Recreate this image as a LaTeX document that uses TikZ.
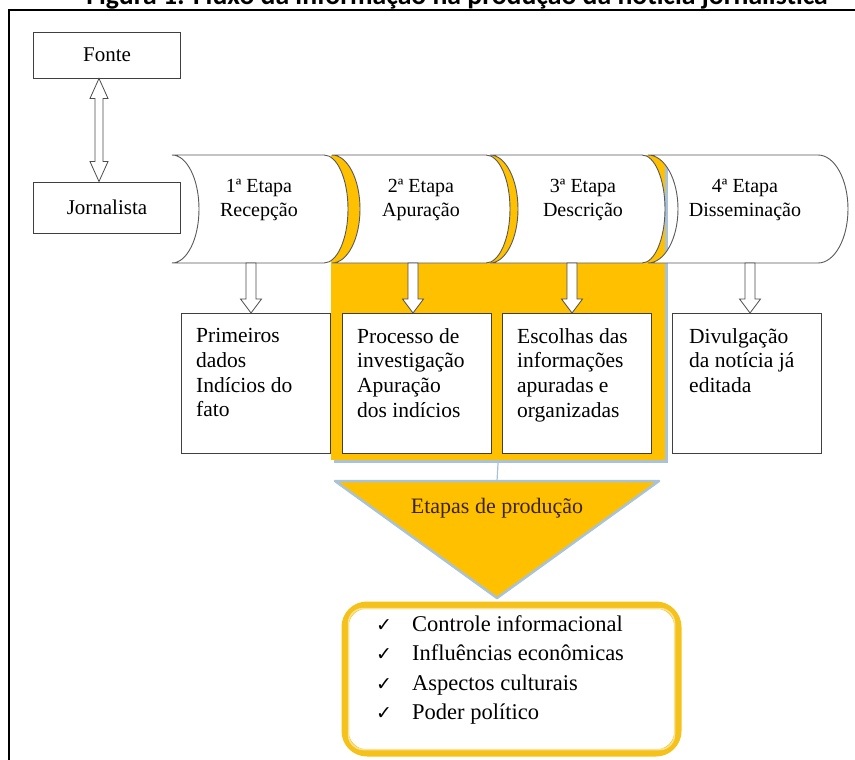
\documentclass[tikz,border=0pt]{standalone}
\usepackage{fontspec}
\setmainfont{Liberation Serif}
\newfontfamily\serifa{Liberation Serif}
\newfontfamily\titulofonte{Carlito}
\newfontfamily\simbolos{DejaVu Sans}
\usetikzlibrary{calc}
\definecolor{laranja}{HTML}{FFC000}
\definecolor{sombra}{HTML}{A8C2D8}
\definecolor{dourado}{HTML}{F5C21B}
\definecolor{marrom}{HTML}{3A2410}
\tikzset{
	forma/.style={draw=black!65, fill=white, line width=0.9pt},
	rotulo/.style={align=center, inner sep=0pt, font=\serifa\fontsize{20}{24}\selectfont},
	caixa/.style={draw=black!75, fill=white, line width=0.9pt, anchor=north west, minimum width=149pt, minimum height=140pt},
	texto/.style={align=left, inner sep=0pt, anchor=north west, font=\serifa\fontsize{21.5}{24.8}\selectfont},
	seta/.style={draw=black!70, fill=white, line width=0.8pt, line join=miter}
}
% seta vazada para baixo: origem, destino, meia haste, meia ponta, comprimento da ponta
\newcommand{\setabloco}[5]{%
	\draw[seta] ($(#1)+(-#3,0)$) -- ($(#2)+(-#3,#5)$) -- ($(#2)+(-#4,#5)$) -- (#2) -- ($(#2)+(#4,#5)$) -- ($(#2)+(#3,#5)$) -- ($(#1)+(#3,0)$) -- cycle;%
}
% etapa: x esquerdo, x direito, curva esquerda, curva direita
\newcommand{\etapa}[4]{%
	\draw[forma] (#1,-155) -- (#2,-155) arc[start angle=90, end angle=-90, x radius=#4, y radius=54] -- (#1,-263) arc[start angle=-90, end angle=90, x radius=#3, y radius=54] -- cycle;%
}
\newcommand{\marca}{\makebox[36pt][l]{\simbolos\fontsize{19}{19}\selectfont ✓}}
\begin{document}
\begin{tikzpicture}[x=1pt, y=1pt]
	\useasboundingbox (0,0) rectangle (855,-760);
	\draw [line width=2.5pt] (9,-760) -- (9,-10) -- (855,-10);
	\node [anchor=base, font=\titulofonte\bfseries\fontsize{27.7}{30}\selectfont] (titulo) at (457,-5) {Figura 1: Fluxo da informação na produção da notícia jornalística};

	\node [draw=black!75, line width=0.9pt, minimum width=147pt, minimum height=46pt, font=\serifa\fontsize{21}{24}\selectfont] (fonte) at (107,-55) {Fonte};
	\node [draw=black!75, line width=0.9pt, minimum width=147pt, minimum height=51pt, font=\serifa\fontsize{21}{24}\selectfont] (jornalista) at (107,-207.5) {Jornalista};
	\coordinate (fa) at ([xshift=-8pt]fonte.south);
	\coordinate (ja) at (fa |- jornalista.north);
	\draw [seta] (fa) -- ++(-9,-20) -- ++(5,0) -- ($(ja)+(-4,20)$) -- ++(-5,0) -- (ja) -- ++(9,20) -- ++(-5,0) -- ($(fa)+(4,-20)$) -- ++(5,0) -- cycle;

	% destaque das etapas 2 e 3
	\fill [sombra] (334,-158) rectangle (668,-463);
	\node [fill=laranja, anchor=north west, minimum width=334pt, minimum height=305pt, inner sep=0pt] (destaque) at (331,-155) {};

	\etapa{172}{324}{27}{24}
	\etapa{332}{486}{28}{24}
	\etapa{490}{642}{28}{23}
	\etapa{648}{818}{30}{30}

	\node [rotulo] (e1) at (259,-200) {1ª Etapa\\Recepção};
	\node [rotulo] (e2) at (421,-200) {2ª Etapa\\Apuração};
	\node [rotulo] (e3) at (583,-200) {3ª Etapa\\Descrição};
	\node [rotulo] (e4) at (745,-200) {4ª Etapa\\Disseminação};

	\node [caixa] (c1) at (181,-313) {};
	\node [caixa] (c2) at (342,-313) {};
	\node [caixa] (c3) at (502,-313) {};
	\node [caixa] (c4) at (672,-313) {};

	\node [texto] (t1) at ([shift={(15,-15)}]c1.north west) {Primeiros\\dados\\Indícios do\\fato};
	\node [texto] (t2) at ([shift={(15,-15)}]c2.north west) {Processo de\\investigação\\Apuração\\dos indícios};
	\node [texto] (t3) at ([shift={(15,-15)}]c3.north west) {Escolhas das\\informações\\apuradas e\\organizadas};
	\node [texto] (t4) at ([shift={(17,-15)}]c4.north west) {Divulgação\\da notícia já\\editada};

	\coordinate (s1) at (251,-263);
	\coordinate (s2) at (413,-263);
	\coordinate (s3) at (572,-263);
	\coordinate (s4) at (750,-263);
	\coordinate (p1) at (s1 |- c1.north);
	\coordinate (p2) at (s2 |- c2.north);
	\coordinate (p3) at (s3 |- c3.north);
	\coordinate (p4) at (s4 |- c4.north);
	\setabloco{s1}{p1}{5}{10.5}{14}
	\setabloco{s2}{p2}{5}{10.5}{14}
	\setabloco{s3}{p3}{5}{10.5}{14}
	\setabloco{s4}{p4}{5}{10.5}{14}

	% triangulo das etapas de producao
	\coordinate (tri) at (497,-481);
	\draw [sombra, line width=1.2pt] (destaque.south) -- (tri);
	\draw [sombra, fill=laranja, line width=2.5pt, line join=round] (335,-481) -- (659,-481) -- (497,-598) -- cycle;
	\node [font=\serifa\fontsize{22}{24}\selectfont, text=marrom] (producao) at (497,-508) {Etapas de produção};

	\node [draw=dourado, line width=7pt, rounded corners=22pt, fill=white, anchor=north west, minimum width=333pt, minimum height=148pt] (lista) at (341.5,-601.5) {};
	\draw [dourado!45, line width=1.5pt, rounded corners=15pt] ([shift={(7,-7)}]lista.north west) rectangle ([shift={(-7,7)}]lista.south east);
	\node [anchor=north west, align=left, inner sep=0pt, font=\serifa\fontsize{22.5}{29.5}\selectfont] (itens) at (376,-615) {%
		\marca Controle informacional\\
		\marca Influências econômicas\\
		\marca Aspectos culturais\\
		\marca Poder político};
\end{tikzpicture}
\end{document}
